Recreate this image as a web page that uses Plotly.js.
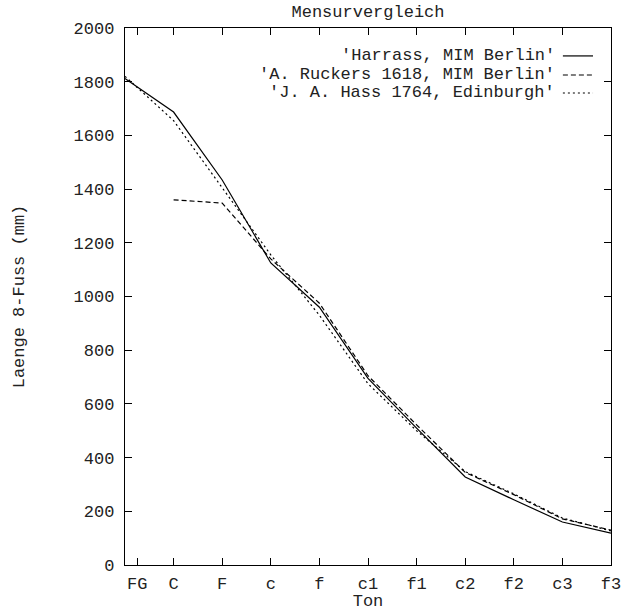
<!DOCTYPE html>
<html>
<head>
<meta charset="utf-8">
<script src="https://cdn.plot.ly/plotly-3.0.1.min.js"></script>
<style>html,body{margin:0;padding:0;background:#fff;}#chart{width:623px;height:611px;}</style>
</head>
<body>
<div id="chart"></div>
<script>
// Tone categories and their tick positions on the x axis
const toneLabels = ["FG", "C", "F", "c", "f", "c1", "f1", "c2", "f2", "c3", "f3"];
const tonePositions = [0.25, 1, 2, 3, 4, 5, 6, 7, 8, 9, 10];

// Data x positions
const xHarrass = [0, 1, 2, 3, 4, 5, 6, 7, 8, 9, 10];
const xRuckers = [1, 2, 3, 4, 5, 6, 7, 8, 9, 10];
const xHass = [0, 1, 2, 3, 4, 5, 6, 7, 8, 9, 10];

// Scale lengths (mm)
const harrass = [1812, 1687, 1434, 1125, 960, 695, 510, 328, 243, 160, 119];
const ruckers = [1360, 1348, 1140, 975, 705, 522, 345, 262, 172, 130];
const hass = [1820, 1655, 1405, 1155, 930, 675, 500, 348, 265, 175, 127];

const seriesNames = ["'Harrass, MIM Berlin'", "'A. Ruckers 1618, MIM Berlin'", "'J. A. Hass 1764, Edinburgh'"];
const dashes = ["solid", "5px,3px", "2px,3px"];

const FONT = "Liberation Mono, Courier New, monospace";
const TXT = "#222";

const traces = [
  {x: xHarrass, y: harrass, name: seriesNames[0], mode: "lines", line: {color: "#000", width: 1.2, dash: dashes[0]}},
  {x: xRuckers, y: ruckers, name: seriesNames[1], mode: "lines", line: {color: "#000", width: 1.2, dash: dashes[1]}},
  {x: xHass, y: hass, name: seriesNames[2], mode: "lines", line: {color: "#000", width: 1.2, dash: dashes[2]}}
];

const legY = [0.948, 0.9125, 0.879];
const annotations = seriesNames.map((n, i) => ({
  xref: "paper", yref: "paper", x: 0.889, y: legY[i], xanchor: "right", yanchor: "middle",
  text: n, showarrow: false, font: {family: FONT, size: 17, color: TXT}
}));
const shapes = seriesNames.map((n, i) => ({
  type: "line", xref: "paper", yref: "paper", x0: 0.901, x1: 0.963, y0: legY[i], y1: legY[i],
  line: {color: "#000", width: 1.2, dash: dashes[i]}
}));

const layout = {
  width: 623, height: 611,
  margin: {l: 125, r: 12, t: 28, b: 46},
  paper_bgcolor: "#fff", plot_bgcolor: "#fff",
  showlegend: false,
  font: {family: FONT, size: 17, color: TXT},
  title: {text: "Mensurvergleich", x: 0.5, xref: "paper", y: 0.982, yref: "container", yanchor: "middle",
          font: {family: FONT, size: 17, color: TXT}},
  xaxis: {
    range: [0, 10], tickmode: "array", tickvals: tonePositions, ticktext: toneLabels,
    ticks: "inside", ticklen: 7, tickcolor: "#000", tickwidth: 1,
    showline: true, linecolor: "#000", linewidth: 1.2, mirror: "ticks",
    showgrid: false, zeroline: false, ticklabelstandoff: 2,
    tickfont: {family: FONT, size: 17, color: TXT},
    title: {text: "Ton", standoff: 0, font: {family: FONT, size: 17, color: TXT}}
  },
  yaxis: {
    range: [0, 2000], tickmode: "linear", tick0: 0, dtick: 200,
    ticks: "inside", ticklen: 7, tickcolor: "#000", tickwidth: 1,
    showline: true, linecolor: "#000", linewidth: 1.2, mirror: "ticks",
    showgrid: false, zeroline: false, ticklabelstandoff: 6,
    tickfont: {family: FONT, size: 17, color: TXT},
    title: {text: "Laenge 8-Fuss (mm)", standoff: 44, font: {family: FONT, size: 17, color: TXT}}
  },
  annotations: annotations,
  shapes: shapes
};

Plotly.newPlot("chart", traces, layout, {displayModeBar: false, staticPlot: true});
</script>
</body>
</html>
